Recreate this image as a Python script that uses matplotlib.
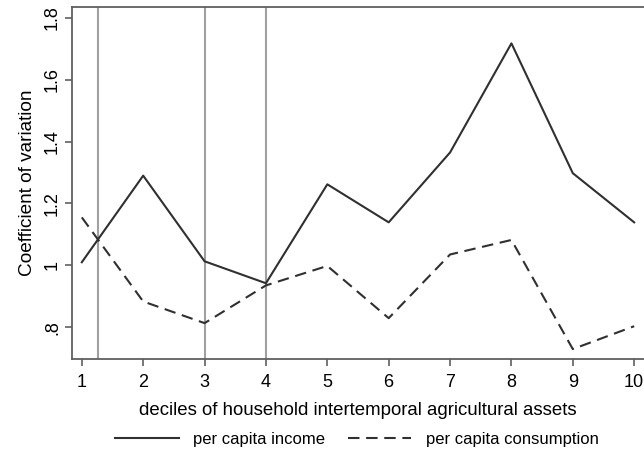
import numpy as np
import matplotlib.pyplot as plt

plt.rcParams['font.family'] = ['Liberation Sans', 'DejaVu Sans']

deciles = [1, 2, 3, 4, 5, 6, 7, 8, 9, 10]
income = [1.01, 1.29, 1.013, 0.942, 1.262, 1.139, 1.365, 1.718, 1.298, 1.139]
consumption = [1.155, 0.883, 0.813, 0.935, 0.998, 0.829, 1.035, 1.082, 0.729, 0.803]
breaks = [1.26, 3, 4]
yticks = [0.8, 1.0, 1.2, 1.4, 1.6, 1.8]
ytick_labels = ['.8', '1', '1.2', '1.4', '1.6', '1.8']

fig = plt.figure(figsize=(6.44, 4.54), dpi=100)
ax = fig.add_axes([0.1118, 0.2093, 0.8882, 0.7742])

for b in breaks:
    ax.axvline(b, color='#a0a0a0', lw=1.5, zorder=1)

ax.plot(deciles, income, color='#303030', lw=1.5, label='per capita income', zorder=3)
ax.plot(deciles, consumption, color='#303030', lw=1.5, ls=(0, (5.5, 3.2)),
        label='per capita consumption', zorder=3)

ax.set_xlim(0.84, 10.16)
ax.set_ylim(0.697, 1.834)
ax.set_xticks(deciles)
ax.set_yticks(yticks)
ax.set_yticklabels(ytick_labels, rotation=90, va='center')
ax.tick_params(axis='both', direction='out', length=5, width=1.2, color='#606060',
               labelsize=13)
ax.tick_params(axis='x', pad=6)
ax.tick_params(axis='y', pad=3)

for s in ['left', 'bottom', 'top']:
    ax.spines[s].set_color('#606060')
    ax.spines[s].set_linewidth(1.3)
ax.spines['right'].set_visible(False)

ax.set_xlabel('deciles of household intertemporal agricultural assets', fontsize=13.4, labelpad=8)
ax.set_ylabel('Coefficient of variation', fontsize=13.7, labelpad=5.5)

fig.legend(loc='center', bbox_to_anchor=(0.554, 0.033), ncol=2, frameon=False,
           fontsize=12, handlelength=3.8, columnspacing=1.4, handletextpad=0.85)

fig.savefig('out.png', dpi=100)
